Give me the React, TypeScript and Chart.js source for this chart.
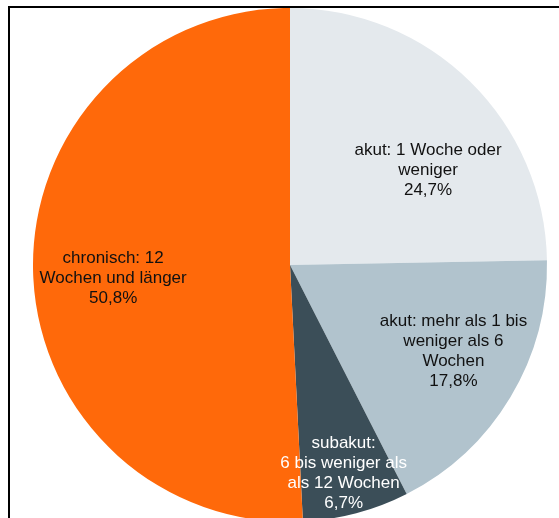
import React, { useEffect, useRef } from "react";
import { Chart, registerables } from "chart.js";

Chart.register(...registerables);

const categories = [
  "akut: 1 Woche oder weniger",
  "akut: mehr als 1 bis weniger als 6 Wochen",
  "subakut: 6 bis weniger als als 12 Wochen",
  "chronisch: 12 Wochen und länger",
];
const values = [24.7, 17.8, 6.7, 50.8];
const labelLines = [
  ["akut: 1 Woche oder", "weniger", "24,7%"],
  ["akut: mehr als 1 bis", "weniger als 6", "Wochen", "17,8%"],
  ["subakut:", "6 bis weniger als", "als 12 Wochen", "6,7%"],
  ["chronisch: 12", "Wochen und länger", "50,8%"],
];
const colors = ["#e4e9ed", "#b1c3cd", "#3b4e58", "#ff690a"];
const textColors = ["#111111", "#111111", "#ffffff", "#111111"];

// label placement style: radial fraction and angle tweak (degrees)
const labelRadius = [0.652, 0.72, 0.837, 0.69];
const labelAngleShift = [11, -3, 0.5, -2.8];

const labelPlugin = {
  id: "sliceLabels",
  afterDatasetsDraw(chart: any) {
    const ctx = chart.ctx;
    const meta = chart.getDatasetMeta(0);
    ctx.save();
    ctx.font = "17px 'Liberation Sans', Arial, sans-serif";
    ctx.textAlign = "center";
    ctx.textBaseline = "middle";
    meta.data.forEach((arc: any, i: number) => {
      const p = arc.getProps(["x", "y", "startAngle", "endAngle", "outerRadius"], true);
      const mid = (p.startAngle + p.endAngle) / 2 + (labelAngleShift[i] * Math.PI) / 180;
      const r = p.outerRadius * labelRadius[i];
      const cx = p.x + Math.cos(mid) * r;
      const cy = p.y + Math.sin(mid) * r;
      const lines = labelLines[i];
      const lh = 20;
      ctx.fillStyle = textColors[i];
      lines.forEach((t: string, k: number) => {
        ctx.fillText(t, cx, cy + (k - (lines.length - 1) / 2) * lh);
      });
    });
    ctx.restore();
  },
};

export default function App() {
  const ref = useRef<HTMLCanvasElement>(null);
  useEffect(() => {
    if (!ref.current) return;
    const chart = new Chart(ref.current, {
      type: "pie",
      data: {
        labels: categories,
        datasets: [
          {
            data: values,
            backgroundColor: colors,
            borderWidth: 0,
          },
        ],
      },
      options: {
        animation: false,
        responsive: false,
        layout: { padding: 0 },
        plugins: {
          legend: { display: false },
          tooltip: { enabled: false },
        },
      },
      plugins: [labelPlugin],
    });
    return () => chart.destroy();
  }, []);

  return (
    <div
      style={{
        position: "fixed",
        left: 0,
        top: 0,
        width: 559,
        height: 518,
        overflow: "hidden",
        background: "#fff",
      }}
    >
      <div
        style={{
          position: "absolute",
          left: 8,
          top: 6,
          width: 580,
          height: 560,
          border: "2px solid #000",
          boxSizing: "border-box",
        }}
      >
        <canvas
          ref={ref}
          width={560}
          height={514}
          style={{ position: "absolute", left: 0, top: 0, width: 560, height: 514 }}
        />
      </div>
    </div>
  );
}
